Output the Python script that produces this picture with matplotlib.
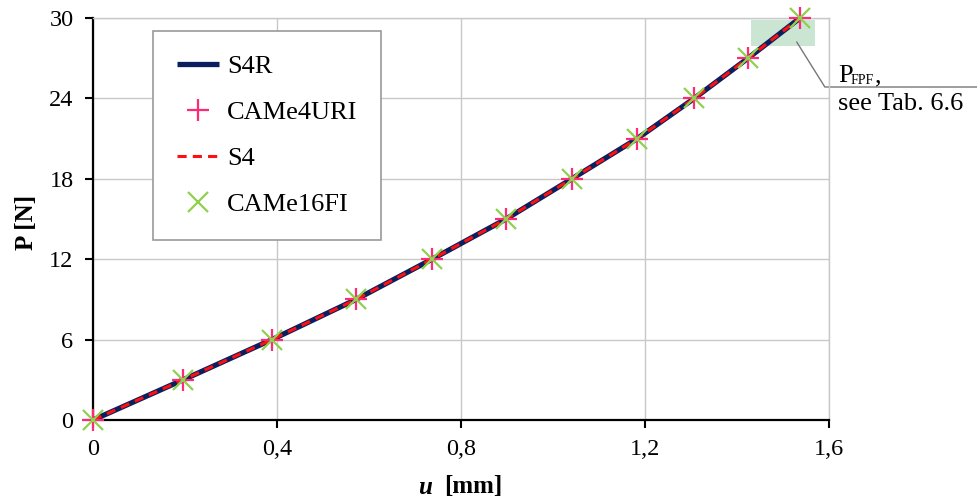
import numpy as np
import matplotlib
matplotlib.use('Agg')
import matplotlib.pyplot as plt

# Load-displacement data
u_mm = [0.0, 0.196, 0.389, 0.572, 0.737, 0.898, 1.041, 1.183, 1.307, 1.424, 1.537]
p_n = [0, 3, 6, 9, 12, 15, 18, 21, 24, 27, 30]

x_ticks = [0, 0.4, 0.8, 1.2, 1.6]
x_tick_labels = ['0', '0,4', '0,8', '1,2', '1,6']
y_ticks = [0, 6, 12, 18, 24, 30]

series_labels = ['S4R', 'CAMe4URI', 'S4', 'CAMe16FI']

plt.rcParams['font.family'] = ['Liberation Serif', 'DejaVu Serif']

fig = plt.figure(figsize=(9.78, 5.01), dpi=100)
ax = fig.add_axes([93 / 978, 81 / 501, 736 / 978, 402 / 501])

# first-ply-failure highlight box
ax.fill_between([1.43, 1.57], 27.9, 29.85, color='#a8d5b5', alpha=0.6, lw=0, zorder=1)

ax.plot(u_mm, p_n, color='#0b1f5e', lw=3.8, label=series_labels[0], zorder=3,
        solid_capstyle='butt')
ax.plot(u_mm, p_n, ls='none', marker='+', ms=16, mew=1.6, color='#ff2a75',
        label=series_labels[1], zorder=5, clip_on=False)
ax.plot(u_mm, p_n, color='#ff1010', lw=2.2, ls=(0, (3, 2)), label=series_labels[2], zorder=4)
ax.plot(u_mm, p_n, ls='none', marker='x', ms=14, mew=1.6, color='#8fd14f',
        label=series_labels[3], zorder=6, clip_on=False)

ax.set_xlim(0, 1.6)
ax.set_ylim(0, 30)
ax.set_xticks(x_ticks)
ax.set_xticklabels(x_tick_labels)
ax.set_yticks(y_ticks)
ax.tick_params(axis='both', direction='out', length=6, width=1.5, labelsize=17.5, pad=8, colors='black')
ax.grid(True, color='#c8c8c8', lw=1)
ax.set_axisbelow(True)
for s in ['left', 'bottom']:
    ax.spines[s].set_linewidth(1.6)
    ax.spines[s].set_color('black')
for s in ['top', 'right']:
    ax.spines[s].set_linewidth(1)
    ax.spines[s].set_color('#c8c8c8')

leg = ax.legend(loc='upper left', bbox_to_anchor=(0.0815, 0.968), borderaxespad=0,
                fontsize=19, frameon=True, fancybox=False, edgecolor='#9a9a9a',
                labelspacing=0.85, handlelength=1.6, handletextpad=0.3,
                borderpad=0.9, framealpha=1)
leg.get_frame().set_linewidth(1.2)

# leader line to the annotation
ax.plot([1.530, 1.591, 1.93], [28.2, 24.85, 24.85], color='#777777', lw=1, clip_on=False, zorder=2)
fig.text(838 / 978, 1 - 82 / 501, 'P', fontsize=19, ha='left', va='baseline')
fig.text(851 / 978, 1 - 84 / 501, 'FPF', fontsize=10, ha='left', va='baseline')
fig.text(875 / 978, 1 - 82 / 501, ',', fontsize=19, ha='left', va='baseline')
fig.text(838 / 978, 1 - 110 / 501, 'see Tab. 6.6', fontsize=19, ha='left', va='baseline')

fig.text(27 / 978, 1 - 222 / 501, 'P [N]', fontsize=18, fontweight='bold', rotation=90,
         ha='center', va='center')
fig.text(432 / 978, 1 - 487 / 501, 'u', fontsize=18, fontweight='bold', style='italic',
         ha='right', va='center')
fig.text(444 / 978, 1 - 487 / 501, '[mm]', fontsize=18, fontweight='bold', ha='left', va='center')

fig.savefig('out.png', dpi=100)
